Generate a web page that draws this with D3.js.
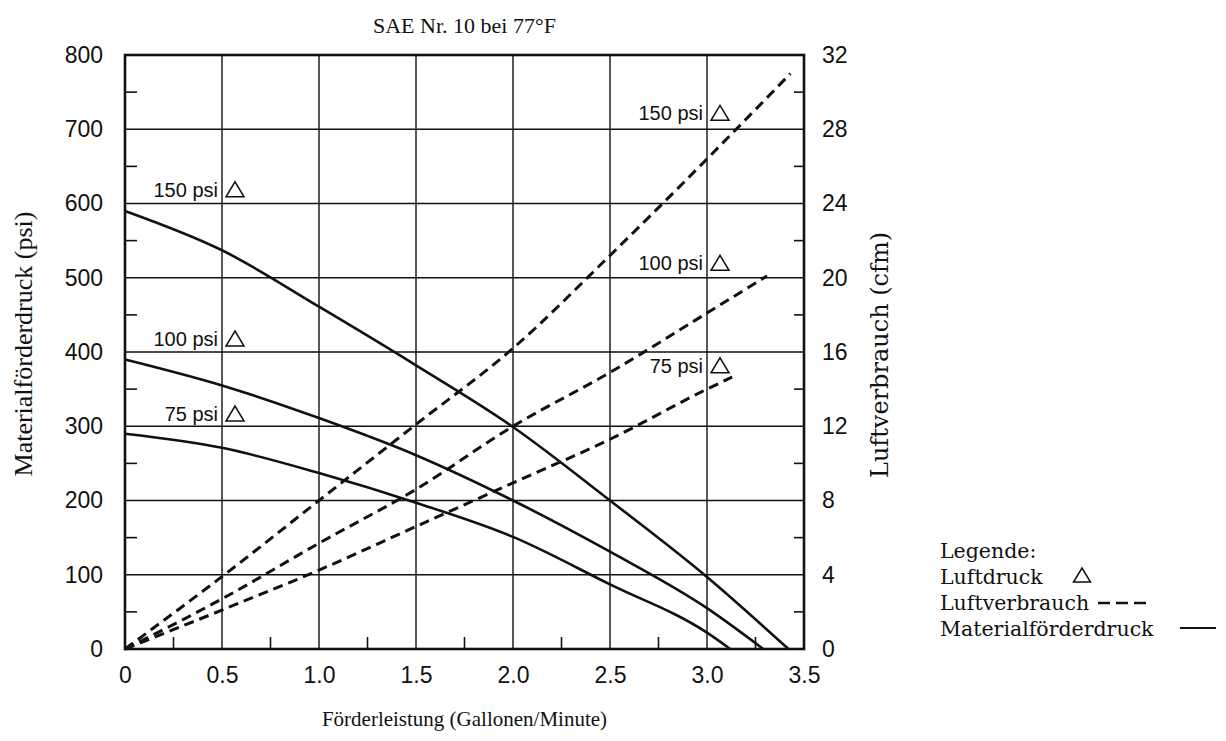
<!DOCTYPE html>
<html>
<head>
<meta charset="utf-8">
<script src="https://cdn.jsdelivr.net/npm/d3@7/dist/d3.min.js"></script>
<style>
  body { margin: 0; background: #fff; }
  svg { display: block; }
  .serif { font-family: "Liberation Serif", "Times New Roman", serif; fill: #111; }
  .wserif { font-family: "DejaVu Serif", "Liberation Serif", serif; fill: #111; }
  .sans { font-family: "Liberation Sans", Arial, sans-serif; fill: #111; }
</style>
</head>
<body>
<svg id="chart" width="1226" height="741"></svg>
<script>
// ---------- data ----------
const xTickValues = [0, 0.5, 1.0, 1.5, 2.0, 2.5, 3.0, 3.5];
const xTickLabels = ["0", "0.5", "1.0", "1.5", "2.0", "2.5", "3.0", "3.5"];
const xMinorTicks = [0.25, 0.75, 1.25, 1.75, 2.25, 2.75, 3.25];
const psiTicks = [0, 100, 200, 300, 400, 500, 600, 700, 800];
const psiMinorTicks = [50, 150, 250, 350, 450, 550, 650, 750];
const cfmTicks = [0, 4, 8, 12, 16, 20, 24, 28, 32];
const cfmMinorTicks = [2, 6, 10, 14, 18, 22, 26, 30];

// Materialförderdruck (psi) vs Förderleistung (gpm)
const mat150X = [0, 0.5, 1.0, 1.5, 2.0, 2.5, 3.0, 3.42];
const mat150Y = [590, 537, 461, 382, 299, 200, 97, 0];
const mat100X = [0, 0.5, 1.0, 1.5, 2.0, 2.5, 3.0, 3.29];
const mat100Y = [390, 355, 311, 261, 200, 131, 55, 0];
const mat75X  = [0, 0.5, 1.0, 1.5, 2.0, 2.5, 3.0, 3.12];
const mat75Y  = [290, 271, 237, 197, 151, 87, 22, 0];

// Luftverbrauch (cfm) vs Förderleistung (gpm)
const air150X = [0, 0.5, 1.0, 1.5, 2.0, 2.5, 3.0, 3.43];
const air150Y = [0, 3.9, 8.0, 12.1, 16.2, 21.2, 26.4, 31.0];
const air100X = [0, 0.5, 1.0, 1.5, 2.0, 2.5, 3.0, 3.31];
const air100Y = [0, 2.7, 5.7, 8.6, 12.0, 14.9, 18.1, 20.1];
const air75X  = [0, 0.5, 1.0, 1.5, 2.0, 2.5, 3.0, 3.13];
const air75Y  = [0, 2.1, 4.25, 6.6, 8.95, 11.3, 14.0, 14.65];

// Luftdruck annotations (gpm, psi)
const pressLabels = ["150 psi", "100 psi", "75 psi", "150 psi", "100 psi", "75 psi"];
const pressLabelX = [0.5, 0.5, 0.5, 3.0, 3.0, 3.0];
const pressLabelPsi = [609, 408, 307, 712, 510, 372];

const titleText = "SAE Nr. 10 bei 77°F";
const xTitle = "Förderleistung (Gallonen/Minute)";
const yLeftTitle = "Materialförderdruck (psi)";
const yRightTitle = "Luftverbrauch (cfm)";
const legendTitle = "Legende:";
const legendItems = ["Luftdruck", "Luftverbrauch", "Materialförderdruck"];

// ---------- layout ----------
const M = { left: 125, right: 804, top: 55, bottom: 649 };
const svg = d3.select("#chart");

const x = d3.scaleLinear().domain([0, 3.5]).range([M.left, M.right]);
const yL = d3.scaleLinear().domain([0, 800]).range([M.bottom, M.top]);
const yR = d3.scaleLinear().domain([0, 32]).range([M.bottom, M.top]);

const ink = "#111";

// gridlines
const grid = svg.append("g");
grid.selectAll("line.h").data(psiTicks.slice(1, -1)).enter().append("line")
  .attr("x1", M.left).attr("x2", M.right)
  .attr("y1", d => yL(d)).attr("y2", d => yL(d))
  .attr("stroke", ink).attr("stroke-width", 1.6);
grid.selectAll("line.v").data(xTickValues.slice(1, -1)).enter().append("line")
  .attr("y1", M.top).attr("y2", M.bottom)
  .attr("x1", d => x(d)).attr("x2", d => x(d))
  .attr("stroke", ink).attr("stroke-width", 1.4);

// axes (labels only, via d3 axes)
const leftAxis = d3.axisLeft(yL).tickValues(psiTicks).tickSize(0).tickPadding(22);
const gL = svg.append("g").attr("transform", `translate(${M.left},0)`).call(leftAxis);
const rightAxis = d3.axisRight(yR).tickValues(cfmTicks).tickSize(0).tickPadding(18);
const gR = svg.append("g").attr("transform", `translate(${M.right},0)`).call(rightAxis);
const bottomAxis = d3.axisBottom(x).tickValues(xTickValues)
  .tickFormat((d, i) => xTickLabels[i]).tickSize(0).tickPadding(18);
const gB = svg.append("g").attr("transform", `translate(0,${M.bottom})`).call(bottomAxis);
[gL, gR, gB].forEach(g => {
  g.select(".domain").remove();
  g.selectAll("text").attr("class", "sans").style("font-size", "23px").attr("fill", ink);
});

// minor ticks
svg.append("g").selectAll("line").data(psiMinorTicks).enter().append("line")
  .attr("x1", M.left).attr("x2", M.left + 12)
  .attr("y1", d => yL(d)).attr("y2", d => yL(d))
  .attr("stroke", ink).attr("stroke-width", 1.6);
svg.append("g").selectAll("line").data(cfmMinorTicks).enter().append("line")
  .attr("x1", M.right - 10).attr("x2", M.right)
  .attr("y1", d => yR(d)).attr("y2", d => yR(d))
  .attr("stroke", ink).attr("stroke-width", 1.6);
svg.append("g").selectAll("line").data(xMinorTicks).enter().append("line")
  .attr("x1", d => x(d)).attr("x2", d => x(d))
  .attr("y1", M.bottom - 12).attr("y2", M.bottom)
  .attr("stroke", ink).attr("stroke-width", 1.6);

// frame
svg.append("rect").attr("x", M.left).attr("y", M.top)
  .attr("width", M.right - M.left).attr("height", M.bottom - M.top)
  .attr("fill", "none").attr("stroke", ink).attr("stroke-width", 2.6);

// curves
const solidLine = d3.line().x(d => x(d[0])).y(d => yL(d[1])).curve(d3.curveMonotoneX);
const dashLine = d3.line().x(d => x(d[0])).y(d => yR(d[1])).curve(d3.curveMonotoneX);
const zip = (a, b) => a.map((v, i) => [v, b[i]]);

[[mat150X, mat150Y], [mat100X, mat100Y], [mat75X, mat75Y]].forEach(([xs, ys]) => {
  svg.append("path").attr("d", solidLine(zip(xs, ys)))
    .attr("fill", "none").attr("stroke", ink).attr("stroke-width", 2.6);
});
[[air150X, air150Y], [air100X, air100Y], [air75X, air75Y]].forEach(([xs, ys]) => {
  svg.append("path").attr("d", dashLine(zip(xs, ys)))
    .attr("fill", "none").attr("stroke", ink).attr("stroke-width", 3)
    .attr("stroke-dasharray", "10,6");
});

// triangle helper
function triangle(g, cx, baseY, w, h) {
  g.append("path")
    .attr("d", `M${cx - w / 2},${baseY} L${cx + w / 2},${baseY} L${cx},${baseY - h} Z`)
    .attr("fill", "none").attr("stroke", ink).attr("stroke-width", 1.5);
}

// Luftdruck labels
const ann = svg.append("g");
pressLabels.forEach((t, i) => {
  const px = x(pressLabelX[i]);
  const py = yL(pressLabelPsi[i]);
  ann.append("text").attr("class", "sans").attr("x", px - 4).attr("y", py)
    .attr("text-anchor", "end").style("font-size", "20px").text(t);
  triangle(ann, px + 13, py, 18, 15);
});

// titles
svg.append("text").attr("class", "serif").attr("x", (M.left + M.right) / 2).attr("y", 33)
  .attr("text-anchor", "middle").style("font-size", "22px").text(titleText);
svg.append("text").attr("class", "serif").attr("x", (M.left + M.right) / 2).attr("y", 726)
  .attr("text-anchor", "middle").style("font-size", "21px").text(xTitle);
svg.append("text").attr("class", "serif")
  .attr("transform", `translate(32,${(M.top + M.bottom) / 2 - 8}) rotate(-90)`)
  .attr("text-anchor", "middle").style("font-size", "26px").text(yLeftTitle);
svg.append("text").attr("class", "wserif")
  .attr("transform", `translate(888,355) rotate(-90)`)
  .attr("text-anchor", "middle").style("font-size", "24px").text(yRightTitle);

// legend
const lg = svg.append("g").attr("transform", "translate(940,0)");
const lgFont = "20.5px";
lg.append("text").attr("class", "wserif").attr("x", 0).attr("y", 558)
  .style("font-size", lgFont).text(legendTitle);
lg.append("text").attr("class", "wserif").attr("x", 0).attr("y", 584)
  .style("font-size", lgFont).text(legendItems[0]);
triangle(lg, 142, 582, 17, 14);
lg.append("text").attr("class", "wserif").attr("x", 0).attr("y", 610)
  .style("font-size", lgFont).text(legendItems[1]);
lg.append("line").attr("x1", 158).attr("x2", 206).attr("y1", 603).attr("y2", 603)
  .attr("stroke", ink).attr("stroke-width", 2.4).attr("stroke-dasharray", "12,6");
lg.append("text").attr("class", "wserif").attr("x", 0).attr("y", 636)
  .style("font-size", lgFont).text(legendItems[2]);
lg.append("line").attr("x1", 240).attr("x2", 276).attr("y1", 628).attr("y2", 628)
  .attr("stroke", ink).attr("stroke-width", 2.2);
</script>
</body>
</html>
